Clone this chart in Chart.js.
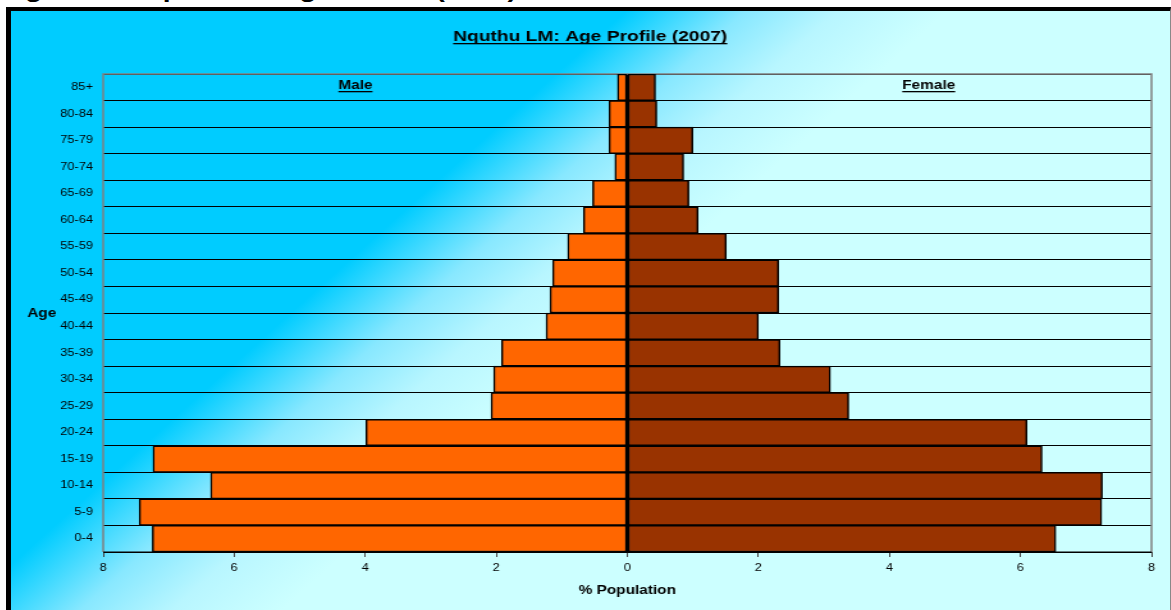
<!DOCTYPE html>
<html lang="en">
<head>
    <meta charset="UTF-8">
    <title>Nquthu LM: Age Profile (2007)</title>
    <script src="https://cdn.jsdelivr.net/npm/chart.js"></script>
    <style>
        body {
            margin: 0;
            background: #fff;
            width: 1171px;
            height: 610px;
            overflow: hidden;
            position: relative;
            font-family: "Liberation Sans", Arial, sans-serif;
        }
        #caption {
            position: absolute;
            left: 0;
            top: -21px;
            font-weight: bold;
            font-size: 22px;
            line-height: 22px;
            white-space: nowrap;
            transform: scaleX(1.28);
            transform-origin: 0 0;
        }
        #frame {
            position: absolute;
            left: 6px;
            top: 7px;
            width: 1159px;
            height: 610px;
            border-left: 5px solid #000;
            border-top: 4px solid #000;
            border-right: 1px solid #888;
            background: linear-gradient(138deg, #00ccff 0%, #00ccff 33.5%, #88e8ff 40%, #b8f6ff 45%, #ccffff 51%, #ccffff 100%);
        }
        #wrap {
            position: absolute;
            left: 11px;
            top: 11px;
            width: 905px;
            height: 599px;
            transform: scaleX(1.28);
            transform-origin: 0 0;
        }
    </style>
</head>
<body>
    <div id="caption">Figure 4: Population Age Profile (2007)</div>
    <div id="frame"></div>
    <div id="wrap"><canvas id="pyramid" width="905" height="599"></canvas></div>

    <script>
        // age groups, bottom to top
        const ageGroups = ['0-4', '5-9', '10-14', '15-19', '20-24', '25-29', '30-34', '35-39', '40-44',
            '45-49', '50-54', '55-59', '60-64', '65-69', '70-74', '75-79', '80-84', '85+'];
        // % of population
        const malePct = [7.25, 7.45, 6.36, 7.24, 3.99, 2.08, 2.04, 1.92, 1.24, 1.18, 1.14, 0.91, 0.67, 0.53, 0.19, 0.28, 0.28, 0.15];
        const femalePct = [6.54, 7.24, 7.25, 6.33, 6.10, 3.38, 3.10, 2.33, 2.00, 2.31, 2.31, 1.51, 1.08, 0.94, 0.86, 1.00, 0.45, 0.43];
        const xMin = -8, xMax = 8, xStep = 2;

        const FONT = '"Liberation Sans", Arial, sans-serif';
        Chart.defaults.font.family = FONT;
        Chart.defaults.font.size = 10;
        Chart.defaults.color = '#000';

        function boldText(ctx, text, x, y, size, underline) {
            ctx.font = 'bold ' + size + 'px ' + FONT;
            ctx.fillStyle = '#000';
            ctx.textAlign = 'center';
            ctx.textBaseline = 'alphabetic';
            ctx.fillText(text, x, y);
            if (underline) {
                const w = ctx.measureText(text).width;
                ctx.fillRect(x - w / 2, y + 2, w, 1.3);
            }
        }

        const overlay = {
            id: 'overlay',
            beforeDatasetsDraw(chart) {
                const { ctx, chartArea: a } = chart;
                ctx.save();
                ctx.strokeStyle = '#808080';
                ctx.lineWidth = 1.5;
                ctx.beginPath();
                ctx.moveTo(a.left, a.bottom);
                ctx.lineTo(a.left, a.top);
                ctx.lineTo(a.right, a.top);
                ctx.lineTo(a.right, a.bottom);
                ctx.stroke();
                ctx.strokeStyle = '#000';
                ctx.lineWidth = 1;
                ctx.beginPath();
                ctx.moveTo(a.left, a.bottom);
                ctx.lineTo(a.right, a.bottom);
                ctx.stroke();
                ctx.restore();
            },
            afterDraw(chart) {
                const { ctx, chartArea: a } = chart;
                const x = chart.scales.x;
                ctx.save();
                boldText(ctx, 'Nquthu LM: Age Profile (2007)', chart.width / 2, 30, 15, true);
                boldText(ctx, 'Male', x.getPixelForValue(-4.15), a.top + 15, 12, true);
                boldText(ctx, 'Female', x.getPixelForValue(4.6), a.top + 15, 12, true);
                boldText(ctx, 'Age', a.left - 48, (a.top + a.bottom) / 2 + 4, 12, false);
                boldText(ctx, '% Population', (a.left + a.right) / 2, a.bottom + 42, 12, false);
                ctx.restore();
            }
        };

        new Chart(document.getElementById('pyramid'), {
            type: 'bar',
            data: {
                labels: ageGroups,
                datasets: [{
                    label: 'Male',
                    data: malePct.map(v => -v),
                    backgroundColor: '#ff6600',
                    borderColor: '#000',
                    borderWidth: 1.5,
                    borderSkipped: false,
                    barPercentage: 1,
                    categoryPercentage: 1
                }, {
                    label: 'Female',
                    data: femalePct,
                    backgroundColor: '#993300',
                    borderColor: '#000',
                    borderWidth: 1.5,
                    borderSkipped: false,
                    barPercentage: 1,
                    categoryPercentage: 1
                }]
            },
            options: {
                indexAxis: 'y',
                responsive: false,
                animation: false,
                layout: { padding: { left: 0, right: 14, top: 63, bottom: 0 } },
                plugins: {
                    legend: { display: false },
                    title: { display: false },
                    tooltip: { enabled: false }
                },
                scales: {
                    x: {
                        stacked: true,
                        min: xMin,
                        max: xMax,
                        afterFit(scale) { scale.height = 58; },
                        ticks: {
                            stepSize: xStep,
                            padding: 5,
                            maxRotation: 0,
                            callback: v => Math.abs(v)
                        },
                        grid: {
                            drawOnChartArea: true,
                            color: c => (c.tick && c.tick.value === 0 ? '#000' : 'rgba(0,0,0,0)'),
                            lineWidth: 1,
                            tickColor: '#444',
                            tickLength: 5
                        },
                        border: { display: false }
                    },
                    y: {
                        stacked: true,
                        reverse: true,
                        afterFit(scale) { scale.width = 72; },
                        ticks: { padding: 8 },
                        grid: {
                            offset: true,
                            color: '#000',
                            lineWidth: 1,
                            drawTicks: false
                        },
                        border: { display: false }
                    }
                }
            },
            plugins: [overlay]
        });
    </script>
</body>
</html>
